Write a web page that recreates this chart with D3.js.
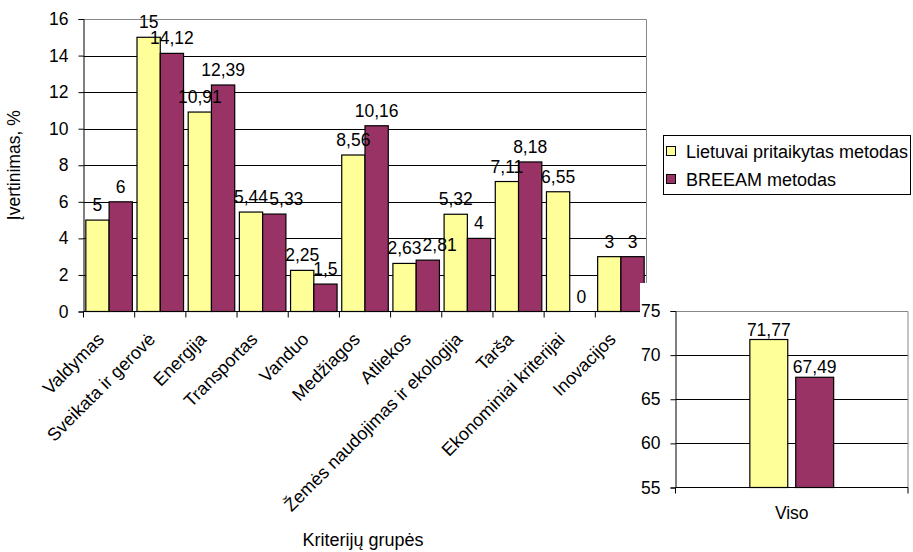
<!DOCTYPE html>
<html>
<head>
<meta charset="utf-8">
<script src="https://cdn.jsdelivr.net/npm/d3@7"></script>
<style>
	body { margin: 0; background: #fff; }
	svg { display: block; font-family: "Liberation Sans", Arial, sans-serif; }
	.grid line { stroke: #000; stroke-width: 1; }
	.bar { stroke: #000; stroke-width: 1.2; }
</style>
</head>
<body>
<div id="chart"></div>
<script>
"use strict";

//  Chart data
const categories = ['Valdymas', 'Sveikata ir gerovė', 'Energija', 'Transportas', 'Vanduo', 'Medžiagos',
	'Atliekos', 'Žemės naudojimas ir ekologija', 'Tarša', 'Ekonominiai kriterijai', 'Inovacijos'];
const seriesNames = ['Lietuvai pritaikytas metodas', 'BREEAM metodas'];
const lithuanianValues = [5, 15, 10.91, 5.44, 2.25, 8.56, 2.63, 5.32, 7.11, 6.55, 3];
const breeamValues = [6, 14.12, 12.39, 5.33, 1.5, 10.16, 2.81, 4, 8.18, 0, 3];
const mainTicks = [0, 2, 4, 6, 8, 10, 12, 14, 16];

const totalCategories = ['Viso'];
const totalLithuanian = [71.77];
const totalBreeam = [67.49];
const totalTicks = [55, 60, 65, 70, 75];

const colors = ['#ffff99', '#993366'];
const width = 913, height = 552;
const fontSize = 17.5, bigFont = 18;

function label(v)
{
	return String(v).replace('.', ',');
}

// push the second label of a pair to the right if the two glyph boxes collide
function separateLabels(group)
{
	const texts = d3.select(group).selectAll('text').nodes();
	const a = texts[0].getBBox(), b = texts[1].getBBox();
	const ya = +d3.select(texts[0]).attr('y'), yb = +d3.select(texts[1]).attr('y');
	const topA = ya - 0.72 * fontSize, botA = ya + 0.15 * fontSize;
	const topB = yb - 0.72 * fontSize, botB = yb + 0.15 * fontSize;
	const overlapX = a.x + a.width + 1 - b.x;
	if (overlapX > 0 && topB + 2 < botA && botB - 2 > topA)
		d3.select(texts[1]).attr('x', +d3.select(texts[1]).attr('x') + overlapX);
}

let svg = d3.select('#chart').append('svg')
	.attr('width', width)
	.attr('height', height);

//  Main chart
const main = { left: 83.5, right: 646.5, top: 19, bottom: 311.5 };

let x0 = d3.scaleBand().domain(categories).range([main.left, main.right]);
let x1 = d3.scaleBand().domain(seriesNames).range([0, x0.bandwidth()]).paddingOuter(0.1);
let y = d3.scaleLinear().domain([0, 16]).range([main.bottom, main.top]);

let mainRows = categories.map((c, i) => ({ category: c, values: [lithuanianValues[i], breeamValues[i]] }));

let g = svg.append('g');

g.append('g')
	.attr('class', 'grid')
	.selectAll('line')
	.data(mainTicks.filter(t => t > 0 && t < 16))
	.join('line')
		.attr('x1', main.left)
		.attr('x2', main.right)
		.attr('y1', t => Math.round(y(t)) + 0.5)
		.attr('y2', t => Math.round(y(t)) + 0.5);

// grey plot border (top, right)
g.append('path')
	.attr('d', `M${main.left},${Math.round(y(16)) + 0.5}H${main.right}V${main.bottom}`)
	.attr('fill', 'none')
	.attr('stroke', '#888');

let groups = g.append('g').selectAll('g')
	.data(mainRows)
	.join('g')
		.attr('transform', d => `translate(${x0(d.category)},0)`);

groups.selectAll('rect')
	.data(d => d.values.map((v, i) => ({ series: seriesNames[i], value: v, i: i })))
	.join('rect')
		.attr('class', 'bar')
		.attr('x', d => x1(d.series))
		.attr('width', x1.bandwidth())
		.attr('y', d => y(d.value))
		.attr('height', d => y(0) - y(d.value))
		.attr('fill', d => colors[d.i])
		.attr('stroke-opacity', d => d.value === 0 ? 0 : 1);

// value labels in their own layer, above every bar
let labelGroups = g.append('g').selectAll('g')
	.data(mainRows)
	.join('g')
		.attr('transform', d => `translate(${x0(d.category)},0)`);

labelGroups.selectAll('text')
	.data(d => d.values.map((v, i) => ({ series: seriesNames[i], value: v })))
	.join('text')
		.attr('x', d => x1(d.series) + x1.bandwidth() / 2)
		.attr('y', d => y(d.value) - 9)
		.attr('text-anchor', 'middle')
		.attr('font-size', fontSize)
		.text(d => label(d.value));

labelGroups.each(function() { separateLabels(this); });

let yAxis = g.append('g')
	.attr('transform', `translate(${main.left},0)`)
	.call(d3.axisLeft(y).tickValues(mainTicks).tickSize(5).tickPadding(10).tickFormat(label));
yAxis.selectAll('text').attr('font-size', fontSize).attr('font-family', null).attr('fill', '#000');

let xAxis = g.append('g')
	.attr('transform', `translate(0,${main.bottom})`);
xAxis.append('line')
	.attr('x1', main.left).attr('x2', main.right)
	.attr('stroke', '#000');
xAxis.selectAll('.tick')
	.data(categories)
	.join('line')
		.attr('class', 'tick')
		.attr('x1', d => x0(d))
		.attr('x2', d => x0(d))
		.attr('y2', 6)
		.attr('stroke', '#000');
xAxis.selectAll('.cat')
	.data(categories)
	.join('text')
		.attr('class', 'cat')
		.attr('transform', d => `translate(${x0(d) + x0.bandwidth() / 2 - 4},${29}) rotate(-45)`)
		.attr('text-anchor', 'end')
		.attr('font-size', bigFont)
		.text(d => d);

svg.selectAll('.domain').attr('stroke', '#000');
svg.selectAll('.tick line').attr('stroke', '#000');

svg.append('text')
	.attr('transform', `translate(20,${(main.top + main.bottom) / 2}) rotate(-90)`)
	.attr('text-anchor', 'middle')
	.attr('font-size', fontSize)
	.text('Įvertinimas, %');

svg.append('text')
	.attr('x', 363)
	.attr('y', 546)
	.attr('text-anchor', 'middle')
	.attr('font-size', bigFont)
	.text('Kriterijų grupės');

//  Legend
let legend = svg.append('g').attr('transform', 'translate(663,135)');
legend.append('rect')
	.attr('x', 0.5).attr('y', 0.5)
	.attr('width', 247).attr('height', 59)
	.attr('fill', '#fff').attr('stroke', '#000');
let legendItem = legend.selectAll('.item')
	.data(seriesNames)
	.join('g')
		.attr('transform', (d, i) => `translate(3,${17 + i * 28})`);
legendItem.append('rect')
	.attr('x', 0.5).attr('y', -5.5)
	.attr('width', 9).attr('height', 9)
	.attr('fill', (d, i) => colors[i])
	.attr('stroke', '#000');
legendItem.append('text')
	.attr('x', 20)
	.attr('y', 6)
	.attr('font-size', bigFont)
	.text(d => d);

//  Inset chart (totals)
svg.append('rect')
	.attr('x', 640).attr('y', 283)
	.attr('width', width - 640).attr('height', height - 283)
	.attr('fill', '#fff');

const inset = { left: 675.5, right: 908, top: 311, bottom: 487.5 };

let tx0 = d3.scaleBand().domain(totalCategories).range([inset.left, inset.right]);
let tx1 = d3.scaleBand().domain(seriesNames).range([0, tx0.bandwidth()]).paddingInner(0.174).paddingOuter(1.62);
let ty = d3.scaleLinear().domain([55, 75]).range([inset.bottom, inset.top]);

let totalRows = totalCategories.map((c, i) => ({ category: c, values: [totalLithuanian[i], totalBreeam[i]] }));

let t = svg.append('g');

t.append('g')
	.attr('class', 'grid')
	.selectAll('line')
	.data(totalTicks.filter(v => v > 55 && v < 75))
	.join('line')
		.attr('x1', inset.left)
		.attr('x2', inset.right)
		.attr('y1', v => Math.round(ty(v)) + 0.5)
		.attr('y2', v => Math.round(ty(v)) + 0.5);

t.append('path')
	.attr('d', `M${inset.left},${Math.round(ty(75)) + 0.5}H${inset.right}V${inset.bottom}`)
	.attr('fill', 'none')
	.attr('stroke', '#888');

let tgroups = t.selectAll('.tgroup')
	.data(totalRows)
	.join('g')
		.attr('transform', d => `translate(${tx0(d.category)},0)`);

tgroups.selectAll('rect')
	.data(d => d.values.map((v, i) => ({ series: seriesNames[i], value: v, i: i })))
	.join('rect')
		.attr('class', 'bar')
		.attr('x', d => tx1(d.series))
		.attr('width', tx1.bandwidth())
		.attr('y', d => ty(d.value))
		.attr('height', d => ty(55) - ty(d.value))
		.attr('fill', d => colors[d.i]);

tgroups.selectAll('text')
	.data(d => d.values.map((v, i) => ({ series: seriesNames[i], value: v })))
	.join('text')
		.attr('x', d => tx1(d.series) + tx1.bandwidth() / 2)
		.attr('y', d => ty(d.value) - 4)
		.attr('text-anchor', 'middle')
		.attr('font-size', fontSize)
		.text(d => label(d.value));

let tyAxis = t.append('g')
	.attr('transform', `translate(${inset.left},0)`)
	.call(d3.axisLeft(ty).tickValues(totalTicks).tickSize(5).tickPadding(10));
tyAxis.selectAll('text').attr('font-size', fontSize).attr('font-family', null).attr('fill', '#000');

let txAxis = t.append('g')
	.attr('transform', `translate(0,${inset.bottom})`);
txAxis.append('line')
	.attr('x1', inset.left).attr('x2', inset.right)
	.attr('stroke', '#000');
txAxis.selectAll('.tick')
	.data([inset.left, inset.right])
	.join('line')
		.attr('x1', d => d).attr('x2', d => d)
		.attr('y2', 6)
		.attr('stroke', '#000');
txAxis.selectAll('.cat')
	.data(totalCategories)
	.join('text')
		.attr('x', d => tx0(d) + tx0.bandwidth() / 2)
		.attr('y', 31)
		.attr('text-anchor', 'middle')
		.attr('font-size', fontSize)
		.text(d => d);

svg.selectAll('.domain').attr('stroke', '#000');
svg.selectAll('.tick line').attr('stroke', '#000');
</script>
</body>
</html>
